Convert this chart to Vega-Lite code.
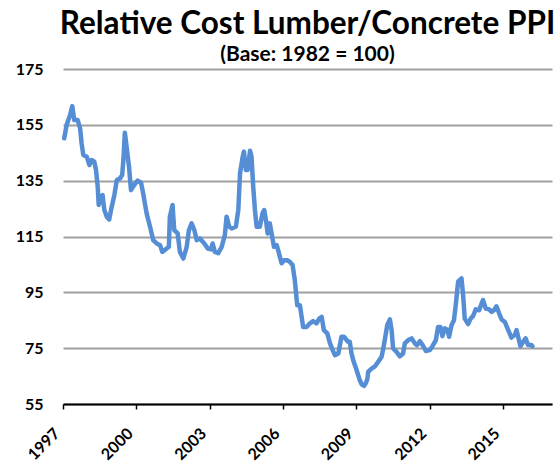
{
  "$schema": "https://vega.github.io/schema/vega-lite/v6.json",
  "width": 489,
  "height": 335,
  "autosize": "none",
  "padding": {"left": 63, "top": 69, "right": 4, "bottom": 59},
  "background": "white",
  "title": {
    "text": "Relative Cost Lumber/Concrete PPI",
    "subtitle": "(Base: 1982 = 100)",
    "font": "Lato",
    "fontSize": 31.5,
    "fontWeight": "bold",
    "color": "black",
    "subtitleFont": "Lato",
    "subtitleFontSize": 21,
    "subtitleFontWeight": "bold",
    "subtitleColor": "black",
    "anchor": "middle",
    "offset": -4,
    "subtitlePadding": 4
  },
  "data": {
    "values": [
      {"year": 1997.05, "value": 150.2},
      {"year": 1997.15, "value": 155},
      {"year": 1997.29, "value": 158.5},
      {"year": 1997.38, "value": 161.7},
      {"year": 1997.46, "value": 156.7},
      {"year": 1997.60, "value": 156.7},
      {"year": 1997.70, "value": 153.7},
      {"year": 1997.76, "value": 148.4},
      {"year": 1997.83, "value": 144.2},
      {"year": 1997.97, "value": 143.6},
      {"year": 1998.08, "value": 140.6},
      {"year": 1998.17, "value": 142.4},
      {"year": 1998.28, "value": 141.8},
      {"year": 1998.35, "value": 138.8},
      {"year": 1998.42, "value": 132.8},
      {"year": 1998.46, "value": 126.3},
      {"year": 1998.55, "value": 129.2},
      {"year": 1998.62, "value": 129.8},
      {"year": 1998.69, "value": 124.5},
      {"year": 1998.79, "value": 122.1},
      {"year": 1998.89, "value": 121.1},
      {"year": 1998.99, "value": 125.6},
      {"year": 1999.10, "value": 129.8},
      {"year": 1999.20, "value": 135.2},
      {"year": 1999.33, "value": 135.8},
      {"year": 1999.42, "value": 137},
      {"year": 1999.47, "value": 142.4},
      {"year": 1999.53, "value": 152.2},
      {"year": 1999.60, "value": 147.2},
      {"year": 1999.70, "value": 140},
      {"year": 1999.78, "value": 131.6},
      {"year": 1999.91, "value": 133.4},
      {"year": 2000.05, "value": 135},
      {"year": 2000.19, "value": 134.3},
      {"year": 2000.28, "value": 130.4},
      {"year": 2000.42, "value": 123.3},
      {"year": 2000.56, "value": 118.5},
      {"year": 2000.69, "value": 113.7},
      {"year": 2000.83, "value": 112.5},
      {"year": 2000.97, "value": 111.9},
      {"year": 2001.06, "value": 109.5},
      {"year": 2001.20, "value": 110.4},
      {"year": 2001.33, "value": 111.3},
      {"year": 2001.37, "value": 122.1},
      {"year": 2001.48, "value": 126.3},
      {"year": 2001.55, "value": 117.3},
      {"year": 2001.69, "value": 116.1},
      {"year": 2001.78, "value": 109.5},
      {"year": 2001.92, "value": 107.1},
      {"year": 2002.06, "value": 111.3},
      {"year": 2002.15, "value": 117.3},
      {"year": 2002.26, "value": 119.7},
      {"year": 2002.37, "value": 117.3},
      {"year": 2002.47, "value": 113.7},
      {"year": 2002.60, "value": 114.3},
      {"year": 2002.78, "value": 112.5},
      {"year": 2002.92, "value": 110.7},
      {"year": 2003.05, "value": 110.4},
      {"year": 2003.12, "value": 112.5},
      {"year": 2003.21, "value": 109.5},
      {"year": 2003.35, "value": 109},
      {"year": 2003.49, "value": 111.3},
      {"year": 2003.62, "value": 115.5},
      {"year": 2003.69, "value": 122.1},
      {"year": 2003.80, "value": 118.5},
      {"year": 2003.90, "value": 117.9},
      {"year": 2004.07, "value": 118.5},
      {"year": 2004.17, "value": 124.5},
      {"year": 2004.24, "value": 137.6},
      {"year": 2004.35, "value": 143.6},
      {"year": 2004.40, "value": 145.4},
      {"year": 2004.48, "value": 138.8},
      {"year": 2004.55, "value": 138.8},
      {"year": 2004.65, "value": 145.7},
      {"year": 2004.71, "value": 143.6},
      {"year": 2004.78, "value": 132.8},
      {"year": 2004.85, "value": 124.5},
      {"year": 2004.92, "value": 118.5},
      {"year": 2005.05, "value": 118.5},
      {"year": 2005.16, "value": 123.3},
      {"year": 2005.23, "value": 124.5},
      {"year": 2005.30, "value": 120.9},
      {"year": 2005.37, "value": 116.1},
      {"year": 2005.46, "value": 119.7},
      {"year": 2005.53, "value": 116.1},
      {"year": 2005.63, "value": 111.3},
      {"year": 2005.74, "value": 111.9},
      {"year": 2005.80, "value": 110.1},
      {"year": 2005.94, "value": 105.4},
      {"year": 2006.04, "value": 106.5},
      {"year": 2006.17, "value": 106.5},
      {"year": 2006.28, "value": 105.9},
      {"year": 2006.39, "value": 104.8},
      {"year": 2006.48, "value": 99.4},
      {"year": 2006.58, "value": 90.4},
      {"year": 2006.69, "value": 90.4},
      {"year": 2006.82, "value": 82.6},
      {"year": 2006.96, "value": 82.6},
      {"year": 2007.10, "value": 83.9},
      {"year": 2007.23, "value": 84.7},
      {"year": 2007.37, "value": 83.9},
      {"year": 2007.48, "value": 85.6},
      {"year": 2007.58, "value": 86.2},
      {"year": 2007.67, "value": 81.5},
      {"year": 2007.81, "value": 80.3},
      {"year": 2007.92, "value": 76.7},
      {"year": 2008.03, "value": 74.3},
      {"year": 2008.12, "value": 72.5},
      {"year": 2008.26, "value": 73.1},
      {"year": 2008.39, "value": 79.1},
      {"year": 2008.49, "value": 79.1},
      {"year": 2008.66, "value": 77.3},
      {"year": 2008.73, "value": 77.3},
      {"year": 2008.80, "value": 73.1},
      {"year": 2008.87, "value": 70.7},
      {"year": 2009.01, "value": 67.1},
      {"year": 2009.14, "value": 63.5},
      {"year": 2009.22, "value": 62},
      {"year": 2009.31, "value": 61.5},
      {"year": 2009.39, "value": 62.5},
      {"year": 2009.45, "value": 64},
      {"year": 2009.48, "value": 66.5},
      {"year": 2009.62, "value": 67.7},
      {"year": 2009.76, "value": 68.5},
      {"year": 2009.89, "value": 70.1},
      {"year": 2010.03, "value": 71.9},
      {"year": 2010.10, "value": 74.9},
      {"year": 2010.16, "value": 77.9},
      {"year": 2010.26, "value": 83.2},
      {"year": 2010.37, "value": 85.3},
      {"year": 2010.44, "value": 81.5},
      {"year": 2010.50, "value": 74.9},
      {"year": 2010.64, "value": 73.7},
      {"year": 2010.78, "value": 72.1},
      {"year": 2010.91, "value": 73.1},
      {"year": 2010.98, "value": 76.7},
      {"year": 2011.12, "value": 77.9},
      {"year": 2011.26, "value": 78.5},
      {"year": 2011.39, "value": 76.7},
      {"year": 2011.48, "value": 76.1},
      {"year": 2011.60, "value": 77.5},
      {"year": 2011.71, "value": 76.1},
      {"year": 2011.84, "value": 74},
      {"year": 2012.00, "value": 74.3},
      {"year": 2012.11, "value": 75.7},
      {"year": 2012.25, "value": 77.9},
      {"year": 2012.34, "value": 82.6},
      {"year": 2012.44, "value": 82.6},
      {"year": 2012.52, "value": 79.3},
      {"year": 2012.62, "value": 82.1},
      {"year": 2012.73, "value": 81.5},
      {"year": 2012.79, "value": 79.1},
      {"year": 2012.89, "value": 83.2},
      {"year": 2012.99, "value": 85},
      {"year": 2013.07, "value": 91},
      {"year": 2013.16, "value": 98.8},
      {"year": 2013.30, "value": 100},
      {"year": 2013.37, "value": 93.4},
      {"year": 2013.43, "value": 85.6},
      {"year": 2013.57, "value": 83.6},
      {"year": 2013.67, "value": 85.6},
      {"year": 2013.77, "value": 86.5},
      {"year": 2013.88, "value": 88.9},
      {"year": 2014.02, "value": 88.6},
      {"year": 2014.12, "value": 91},
      {"year": 2014.18, "value": 92.2},
      {"year": 2014.29, "value": 89.2},
      {"year": 2014.43, "value": 88.9},
      {"year": 2014.53, "value": 88},
      {"year": 2014.63, "value": 88.6},
      {"year": 2014.73, "value": 90},
      {"year": 2014.84, "value": 87.4},
      {"year": 2014.94, "value": 85.3},
      {"year": 2015.07, "value": 84.4},
      {"year": 2015.21, "value": 81.5},
      {"year": 2015.34, "value": 78.8},
      {"year": 2015.48, "value": 79.7},
      {"year": 2015.55, "value": 81.5},
      {"year": 2015.61, "value": 79.3},
      {"year": 2015.71, "value": 75.7},
      {"year": 2015.82, "value": 77.3},
      {"year": 2015.92, "value": 78.5},
      {"year": 2016.02, "value": 76.1},
      {"year": 2016.16, "value": 76.1},
      {"year": 2016.20, "value": 75.7}
    ]
  },
  "mark": {"type": "line", "color": "#558ED5", "strokeWidth": 4.5, "strokeJoin": "round", "strokeCap": "round"},
  "encoding": {
    "x": {
      "field": "year",
      "type": "quantitative",
      "scale": {"domain": [1997, 2017], "nice": false, "zero": false},
      "axis": {
        "values": [1997, 2000, 2003, 2006, 2009, 2012, 2015],
        "format": "d",
        "grid": false,
        "title": null,
        "labelAngle": -45,
        "labelOffset": -12,
        "domainColor": "black",
        "domainWidth": 2,
        "tickColor": "black",
        "tickSize": 5,
        "tickWidth": 1.5,
        "labelFont": "Lato",
        "labelFontSize": 16,
        "labelFontWeight": "bold",
        "labelColor": "black",
        "labelPadding": 16
      }
    },
    "y": {
      "field": "value",
      "type": "quantitative",
      "scale": {"domain": [55, 175], "nice": false, "zero": false},
      "axis": {
        "values": [55, 75, 95, 115, 135, 155, 175],
        "title": null,
        "domain": false,
        "ticks": false,
        "grid": true,
        "gridColor": "#A0A0A0",
        "gridWidth": 2,
        "labelPadding": 20,
        "labelFont": "Lato",
        "labelFontSize": 16,
        "labelFontWeight": "bold",
        "labelColor": "black"
      }
    }
  },
  "config": {"view": {"stroke": null}}
}
